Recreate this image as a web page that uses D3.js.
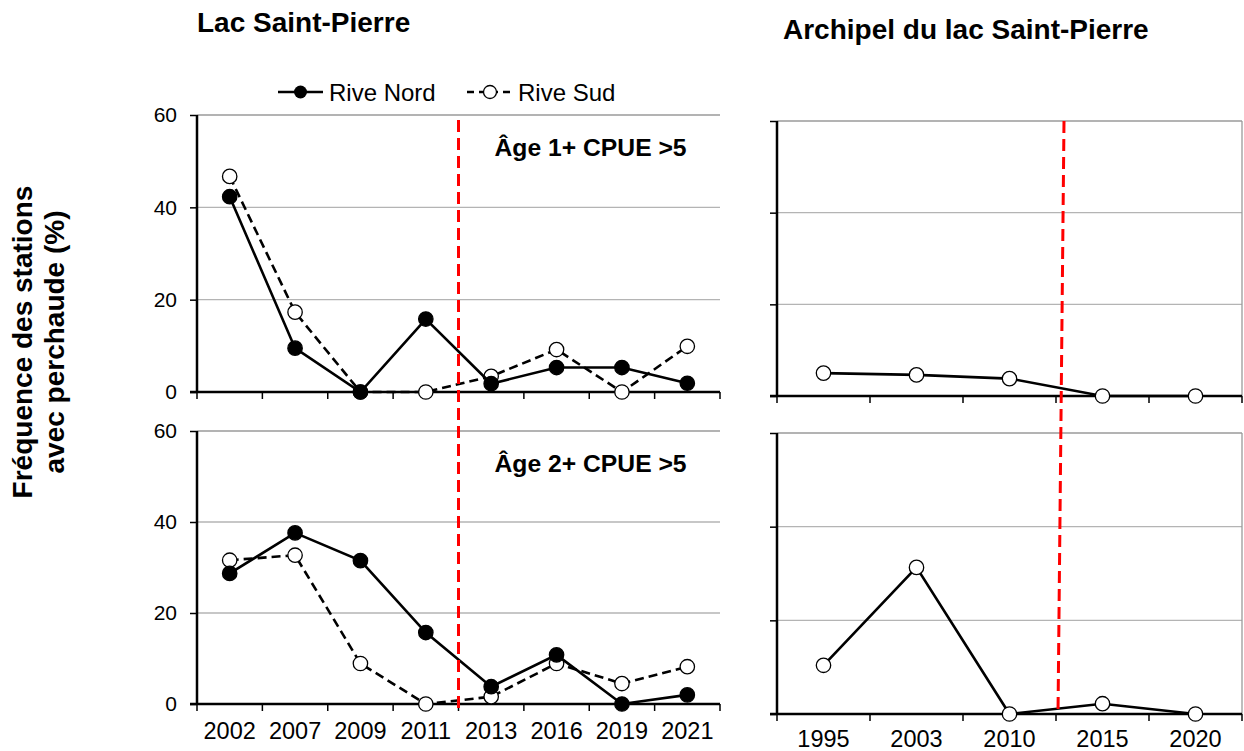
<!DOCTYPE html>
<html>
<head>
<meta charset="utf-8">
<script src="https://cdn.jsdelivr.net/npm/d3@7"></script>
<style>
body { margin: 0; background: #fff; }
svg { display: block; font-family: "Liberation Sans", Arial, sans-serif; }
</style>
</head>
<body>
<svg id="chart" width="1244" height="751"></svg>
<script>
// Lac Saint-Pierre, station years
const lakeYears = ["2002", "2007", "2009", "2011", "2013", "2016", "2019", "2021"];
const nordAge1  = [42.3, 9.5, 0, 15.8, 1.8, 5.3, 5.3, 1.9];
const sudAge1   = [46.7, 17.3, 0, 0, 3.4, 9.2, 0, 9.9];
const nordAge2  = [28.7, 37.6, 31.5, 15.7, 3.8, 10.8, 0, 2.0];
const sudAge2   = [31.6, 32.7, 8.9, 0, 1.6, 8.9, 4.5, 8.2];

// Archipel du lac Saint-Pierre
const archYears = ["1995", "2003", "2010", "2015", "2020"];
const archAge1  = [5.0, 4.6, 3.8, 0, 0];
const archAge2  = [10.4, 31.3, 0, 2.2, 0];

const yTicks = [0, 20, 40, 60];
const notes  = ["Âge 1+ CPUE >5", "Âge 2+ CPUE >5"];

const svg = d3.select("#chart");

// x scales (bands, ticks sit on band edges)
const xLake = d3.scaleBand().domain(lakeYears).range([197, 720]);
const xArch = d3.scaleBand().domain(archYears).range([777, 1242]);

// y scales, one per panel
const yLakeTop = d3.scaleLinear().domain([0, 60]).range([392, 115]);
const yLakeBot = d3.scaleLinear().domain([0, 60]).range([704, 431]);
const yArchTop = d3.scaleLinear().domain([0, 60]).range([396, 121]);
const yArchBot = d3.scaleLinear().domain([0, 60]).range([714, 433]);

function drawPanel(x, y, opts) {
    const g = svg.append("g");
    const [x0, x1] = x.range();

    // gridlines
    g.selectAll("line.grid")
     .data(yTicks.filter(d => d > 0))
     .enter().append("line")
     .attr("x1", x0).attr("x2", x1)
     .attr("y1", d => y(d)).attr("y2", d => y(d))
     .attr("stroke", d => d === 60 ? "#9a9a9a" : "#b4b4b4")
     .attr("stroke-width", 1.3);

    if (opts.rightBorder) {
        g.append("line")
         .attr("x1", x1).attr("x2", x1)
         .attr("y1", y(60)).attr("y2", y(0))
         .attr("stroke", "#9a9a9a").attr("stroke-width", 1.3);
    }

    // y axis
    const yAxis = g.append("g")
       .attr("transform", "translate(" + x0 + ",0)")
       .call(d3.axisLeft(y).tickValues(yTicks).tickSize(7).tickPadding(13)
                .tickFormat(opts.yLabels ? d3.format("d") : ""));
    yAxis.select(".domain").remove();
    yAxis.selectAll(".tick line").attr("stroke", "#000").attr("stroke-width", 1.5);
    yAxis.selectAll(".tick text").attr("font-size", 21).attr("fill", "#000")
         .attr("font-family", "Liberation Sans, Arial, sans-serif");
    g.append("line")
     .attr("x1", x0).attr("x2", x0)
     .attr("y1", y(60)).attr("y2", y(0))
     .attr("stroke", "#000").attr("stroke-width", 2.5);

    // x axis: line + edge ticks
    g.append("line")
     .attr("x1", x0 - 7).attr("x2", x1)
     .attr("y1", y(0)).attr("y2", y(0))
     .attr("stroke", "#000").attr("stroke-width", 2.5);
    const edges = x.domain().map(d => x(d)).concat([x1]);
    g.selectAll("line.xtick")
     .data(edges)
     .enter().append("line")
     .attr("x1", d => d).attr("x2", d => d)
     .attr("y1", y(0)).attr("y2", y(0) + 7)
     .attr("stroke", "#000").attr("stroke-width", 1.5);

    if (opts.xLabels) {
        const xAxis = g.append("g")
           .attr("transform", "translate(0," + y(0) + ")")
           .call(d3.axisBottom(x).tickSize(0).tickPadding(opts.xPad));
        xAxis.select(".domain").remove();
        xAxis.selectAll(".tick text").attr("font-size", 23.5).attr("fill", "#000")
             .attr("font-family", "Liberation Sans, Arial, sans-serif");
    }

    // series
    opts.series.forEach(function(s) {
        const pts = x.domain().map((d, i) => [x(d) + x.bandwidth() / 2, y(s.values[i])]);
        g.append("path")
         .attr("d", d3.line()(pts))
         .attr("fill", "none")
         .attr("stroke", "#000")
         .attr("stroke-width", 2.6)
         .attr("stroke-dasharray", s.dashed ? "9,5" : null);
        g.selectAll(null)
         .data(pts)
         .enter().append("circle")
         .attr("cx", d => d[0]).attr("cy", d => d[1])
         .attr("r", 7.2)
         .attr("fill", s.filled ? "#000" : "#fff")
         .attr("stroke", "#000").attr("stroke-width", 1.3);
    });

    if (opts.note) {
        g.append("text")
         .attr("x", x(lakeYears[4]) + 36)
         .attr("y", y(60) + 41)
         .attr("font-size", 24.7).attr("font-weight", "bold")
         .text(opts.note);
    }
    return g;
}

drawPanel(xLake, yLakeTop, {
    yLabels: true, xLabels: false, note: notes[0],
    series: [
        { values: sudAge1, dashed: true, filled: false },
        { values: nordAge1, dashed: false, filled: true }
    ]
});
drawPanel(xLake, yLakeBot, {
    yLabels: true, xLabels: true, xPad: 18, note: notes[1],
    series: [
        { values: sudAge2, dashed: true, filled: false },
        { values: nordAge2, dashed: false, filled: true }
    ]
});
drawPanel(xArch, yArchTop, {
    yLabels: false, xLabels: false, rightBorder: true,
    series: [{ values: archAge1, dashed: false, filled: false }]
});
drawPanel(xArch, yArchBot, {
    yLabels: false, xLabels: true, xPad: 16, rightBorder: true,
    series: [{ values: archAge2, dashed: false, filled: false }]
});

// red dashed separators (between 2011/2013 and 2010/2015)
svg.append("line")
   .attr("x1", xLake(lakeYears[4])).attr("x2", xLake(lakeYears[4]))
   .attr("y1", yLakeTop(60) + 5).attr("y2", yLakeBot(0) + 4)
   .attr("stroke", "#ff0000").attr("stroke-width", 3)
   .attr("stroke-dasharray", "12,6");
svg.append("line")
   .attr("x1", xArch(archYears[3]) + 8).attr("x2", xArch(archYears[3]) + 2)
   .attr("y1", yArchTop(60)).attr("y2", yArchBot(0))
   .attr("stroke", "#ff0000").attr("stroke-width", 3)
   .attr("stroke-dasharray", "12,6");

// titles
svg.append("text").attr("x", 197).attr("y", 32)
   .attr("font-size", 28).attr("font-weight", "bold")
   .text("Lac Saint-Pierre");
svg.append("text").attr("x", 783).attr("y", 39)
   .attr("font-size", 28).attr("font-weight", "bold")
   .text("Archipel du lac Saint-Pierre");

// y title
const yTitle = ["Fréquence des stations", "avec perchaude (%)"];
svg.selectAll("text.ytitle")
   .data(yTitle)
   .enter().append("text")
   .attr("transform", (d, i) => "translate(" + (32 + i * 32) + ",342) rotate(-90)")
   .attr("text-anchor", "middle")
   .attr("font-size", 28).attr("font-weight", "bold")
   .text(d => d);

// legend
const legend = svg.append("g").attr("transform", "translate(278,92)");
legend.append("line").attr("x1", 0).attr("x2", 45).attr("y1", 0).attr("y2", 0)
      .attr("stroke", "#000").attr("stroke-width", 2.6);
legend.append("circle").attr("cx", 22.5).attr("cy", 0).attr("r", 6.5).attr("fill", "#000");
legend.append("text").attr("x", 51).attr("y", 8.5).attr("font-size", 24).text("Rive Nord");
legend.append("line").attr("x1", 189).attr("x2", 235).attr("y1", 0).attr("y2", 0)
      .attr("stroke", "#000").attr("stroke-width", 2.6).attr("stroke-dasharray", "7,5");
legend.append("circle").attr("cx", 212).attr("cy", 0).attr("r", 6.5)
      .attr("fill", "#fff").attr("stroke", "#000").attr("stroke-width", 1.3);
legend.append("text").attr("x", 240).attr("y", 8.5).attr("font-size", 24).text("Rive Sud");
</script>
</body>
</html>
